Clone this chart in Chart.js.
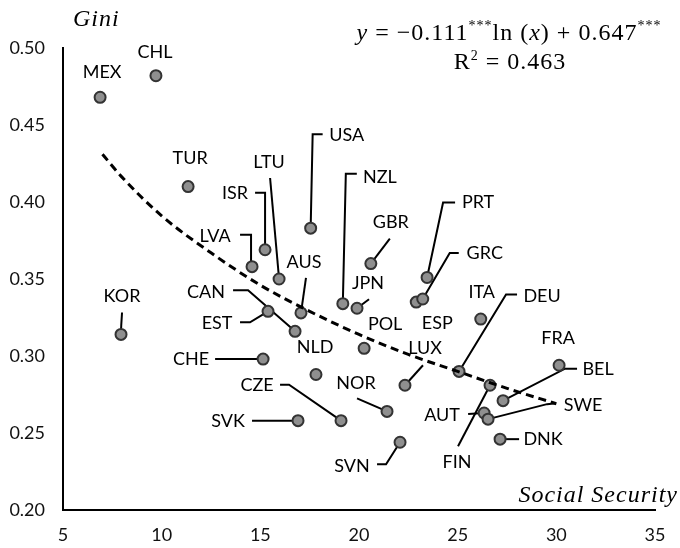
<!DOCTYPE html>
<html>
<head>
<meta charset="utf-8">
<script src="https://cdn.jsdelivr.net/npm/chart.js@4.4.0/dist/chart.umd.min.js"></script>
<style>
  html, body { margin: 0; padding: 0; background: #fff; }
</style>
</head>
<body>
<canvas id="myChart" width="680" height="548"></canvas>
<script>
// Data
const countries = ['MEX', 'CHL', 'TUR', 'KOR', 'LVA', 'ISR', 'LTU', 'EST', 'CHE', 'CAN', 'AUS', 'NLD', 'USA',
  'SVK', 'CZE', 'NZL', 'JPN', 'GBR', 'POL', 'NOR', 'SVN', 'LUX', 'ESP', 'GRC', 'PRT', 'DEU', 'ITA',
  'AUT', 'SWE', 'FIN', 'DNK', 'BEL', 'FRA'];
const socialSecurity = [6.88, 9.71, 11.34, 7.94, 14.58, 15.24, 15.95, 15.39, 15.14, 16.76, 17.06, 17.82, 17.55,
  16.91, 19.09, 19.18, 19.90, 20.60, 20.26, 21.42, 22.08, 22.33, 22.90, 23.23, 23.45, 25.07, 26.17,
  26.34, 26.54, 26.64, 27.15, 27.30, 30.14];
const gini = [0.468, 0.482, 0.410, 0.314, 0.358, 0.369, 0.350, 0.329, 0.298, 0.316, 0.328, 0.288, 0.383,
  0.258, 0.258, 0.334, 0.331, 0.360, 0.305, 0.264, 0.244, 0.281, 0.335, 0.337, 0.351, 0.290, 0.324,
  0.263, 0.259, 0.281, 0.246, 0.271, 0.294];

// fitted curve, points
const fitX = [7, 8, 10, 12.5, 15, 17.5, 20, 22.5, 25, 27.5, 30];
const fitY = [0.431, 0.416, 0.391, 0.367, 0.346, 0.329, 0.314, 0.301, 0.290, 0.279, 0.269];

const xTickValues = [5, 10, 15, 20, 25, 30, 35];
const yTickValues = [0.20, 0.25, 0.30, 0.35, 0.40, 0.45, 0.50];

// label placement: offsets in pixels from the point, plus leader line
const labelLayout = {
  MEX: { dx: 2, dy: -25 },
  CHL: { dx: -1, dy: -24 },
  TUR: { dx: 2, dy: -28 },
  KOR: { dx: 1, dy: -38, line: [[1, -22], [0, -5]] },
  LVA: { dx: -37, dy: -30, line: [[-12, -32], [-1, -32], [-1, 0]] },
  ISR: { dx: -30, dy: -57, line: [[-10, -57], [0, -57], [0, 0]] },
  LTU: { dx: -10, dy: -117, line: [[-9, -101], [0, 0]] },
  EST: { dx: -51, dy: 12, line: [[-28, 11], [-18, 11], [0, 0]] },
  CHE: { dx: -72, dy: 0, line: [[-48, 0], [0, 0]] },
  CAN: { dx: -89, dy: -39, line: [[-62, -41], [-47, -41], [0, 0]] },
  AUS: { dx: 3, dy: -51, line: [[5, -35], [0, 0]] },
  NLD: { dx: -1, dy: -27 },
  USA: { dx: 36, dy: -93, line: [[12, -94], [2, -94], [0, 0]] },
  SVK: { dx: -70, dy: 1, line: [[-46, 0], [0, 0]] },
  CZE: { dx: -84, dy: -35, line: [[-61, -36], [-52, -36], [0, 0]] },
  NZL: { dx: 37, dy: -126, line: [[14, -130], [3, -130], [0, 0]] },
  JPN: { dx: 11, dy: -25, line: [[12, -9], [0, 0]] },
  GBR: { dx: 20, dy: -41, line: [[19, -25], [0, 0]] },
  POL: { dx: 21, dy: -24 },
  NOR: { dx: -31, dy: -28, line: [[-30, -13], [0, 0]] },
  SVN: { dx: -48, dy: 24, line: [[-23, 22], [-14, 22], [0, 0]] },
  LUX: { dx: 20, dy: -37, line: [[18, -20], [0, 0]] },
  ESP: { dx: 21, dy: 21 },
  GRC: { dx: 62, dy: -46, line: [[36, -46], [27, -46], [0, 0]] },
  PRT: { dx: 51, dy: -75, line: [[28, -75], [16, -75], [0, 0]] },
  DEU: { dx: 83, dy: -75, line: [[58, -77], [47, -77], [0, 0]] },
  ITA: { dx: 1, dy: -27 },
  AUT: { dx: -42, dy: 2, line: [[-16, 1], [0, 0]] },
  SWE: { dx: 95, dy: -14, line: [[0, 0], [59, -15], [68, -16]] },
  FIN: { dx: -33, dy: 77, line: [[-32, 61], [0, 0]] },
  DNK: { dx: 43, dy: 0, line: [[0, 0], [19, 0]] },
  BEL: { dx: 95, dy: -31, line: [[0, 0], [62, -32], [74, -32]] },
  FRA: { dx: -1, dy: -27 }
};

const labelFont = '18px Lato';
const serif = '"Liberation Serif", "DejaVu Serif", serif';

// draws a row of text pieces centred on cx
function drawPieces(ctx, pieces, cx, baseline) {
  let total = 0;
  pieces.forEach(p => { ctx.font = p.font; total += ctx.measureText(p.t).width; });
  let x = cx - total / 2;
  pieces.forEach(p => {
    ctx.font = p.font;
    ctx.fillText(p.t, x, baseline - (p.raise || 0));
    x += ctx.measureText(p.t).width;
  });
}

const annotate = {
  id: 'annotate',
  beforeDatasetsDraw(chart) {
    const ctx = chart.ctx, xs = chart.scales.x, ys = chart.scales.y;
    ctx.save();
    ctx.strokeStyle = '#000';
    ctx.lineWidth = 2;
    countries.forEach((c, i) => {
      const lay = labelLayout[c];
      if (!lay || !lay.line) return;
      const px = xs.getPixelForValue(socialSecurity[i]);
      const py = ys.getPixelForValue(gini[i]);
      ctx.beginPath();
      lay.line.forEach(([dx, dy], k) => {
        if (k === 0) ctx.moveTo(px + dx, py + dy); else ctx.lineTo(px + dx, py + dy);
      });
      ctx.stroke();
    });
    ctx.restore();
  },
  afterDatasetsDraw(chart) {
    const ctx = chart.ctx, xs = chart.scales.x, ys = chart.scales.y;
    ctx.save();
    ctx.fillStyle = '#000';
    ctx.font = labelFont;
    ctx.textAlign = 'center';
    ctx.textBaseline = 'middle';
    countries.forEach((c, i) => {
      const lay = labelLayout[c];
      const px = xs.getPixelForValue(socialSecurity[i]);
      const py = ys.getPixelForValue(gini[i]);
      ctx.fillText(c, px + lay.dx, py + lay.dy);
    });
    ctx.restore();
  },
  afterDraw(chart) {
    const ctx = chart.ctx;
    ctx.save();
    ctx.fillStyle = '#000';
    ctx.textBaseline = 'alphabetic';
    ctx.letterSpacing = '1px';
    // axis titles
    ctx.font = 'italic 24px ' + serif;
    ctx.textAlign = 'left';
    ctx.fillText('Gini', 73, 26);
    ctx.textAlign = 'right';
    ctx.fillText('Social Security', 678, 502);
    // equation
    ctx.textAlign = 'left';
    const norm = '24px ' + serif, ital = 'italic 24px ' + serif, sup = '14px ' + serif;
    drawPieces(ctx, [
      { t: 'y', font: ital },
      { t: ' = \u22120.111', font: norm },
      { t: '***', font: sup, raise: 10 },
      { t: 'ln (', font: norm },
      { t: 'x', font: ital },
      { t: ') + 0.647', font: norm },
      { t: '***', font: sup, raise: 10 }
    ], 509, 40);
    drawPieces(ctx, [
      { t: 'R', font: norm },
      { t: '2', font: sup, raise: 9 },
      { t: ' = 0.463', font: norm }
    ], 510, 69);
    ctx.restore();
  }
};

const myChart = document.getElementById('myChart');

new Chart(myChart, {
  type: 'scatter',
  data: {
    datasets: [
      {
        type: 'line',
        data: fitX.map((x, i) => ({ x: x, y: fitY[i] })),
        borderColor: '#000',
        borderWidth: 3,
        borderDash: [8, 5],
        pointRadius: 0,
        cubicInterpolationMode: 'monotone',
        fill: false,
        order: 0
      },
      {
        data: socialSecurity.map((x, i) => ({ x: x, y: gini[i] })),
        backgroundColor: '#8f8f8f',
        borderColor: '#333',
        borderWidth: 2,
        pointRadius: 5.5,
        order: 1
      }
    ]
  },
  options: {
    responsive: false,
    animation: false,
    layout: { padding: { left: 0, top: 48, right: 25, bottom: 0 } },
    plugins: { legend: { display: false }, tooltip: { enabled: false } },
    scales: {
      x: {
        type: 'linear',
        min: 5,
        max: 35,
        afterBuildTicks: s => { s.ticks = xTickValues.map(v => ({ value: v })); },
        afterFit: s => { s.height = 38; },
        grid: { display: false, drawTicks: false },
        border: { display: true, color: '#000', width: 2 },
        ticks: { font: { family: 'Lato', size: 18 }, color: '#111', padding: 14 }
      },
      y: {
        min: 0.2,
        max: 0.5,
        afterBuildTicks: s => { s.ticks = yTickValues.map(v => ({ value: v })); },
        afterFit: s => { s.width = 63; },
        grid: { display: false, drawTicks: false },
        border: { display: true, color: '#000', width: 2 },
        ticks: { font: { family: 'Lato', size: 18 }, color: '#111', padding: 18, callback: v => v.toFixed(2) }
      }
    }
  },
  plugins: [annotate]
});
</script>
</body>
</html>
